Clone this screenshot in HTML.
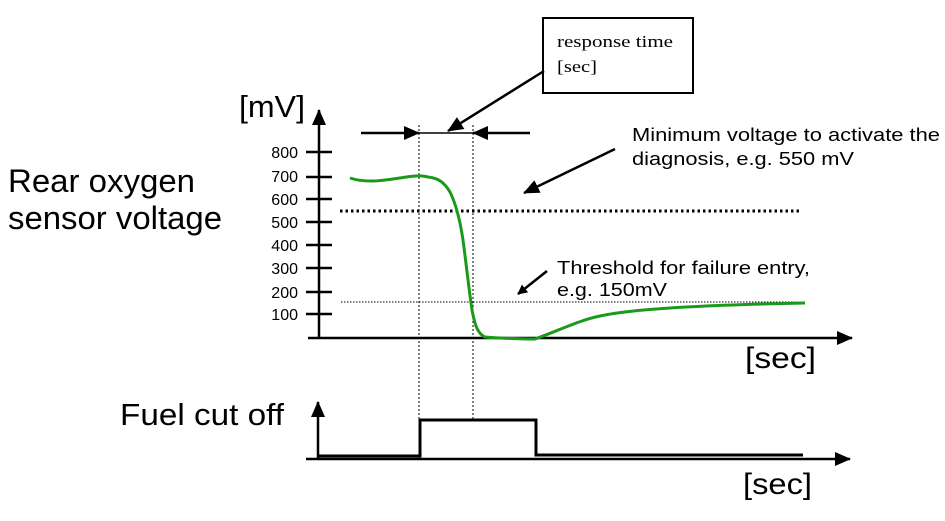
<!DOCTYPE html>
<html><head><meta charset="utf-8"><style>
html,body{margin:0;padding:0;background:#fff;}
svg{display:block;}
text{font-family:"Liberation Sans",sans-serif;fill:#000;}
</style></head><body>
<svg width="945" height="521" viewBox="0 0 945 521" xmlns="http://www.w3.org/2000/svg">
<defs>
<marker id="ah" markerWidth="10" markerHeight="10" refX="9" refY="5" orient="auto" markerUnits="userSpaceOnUse">
<path d="M0,0 L10,5 L0,10 z" fill="#000"/></marker>
<marker id="ab" markerWidth="16" markerHeight="14" refX="15" refY="7" orient="auto" markerUnits="userSpaceOnUse">
<path d="M0,0 L16,7 L0,14 z" fill="#000"/></marker>
</defs>
<text x="8" y="192" font-size="32" textLength="187" lengthAdjust="spacingAndGlyphs">Rear oxygen</text>
<text x="8" y="229" font-size="32" textLength="214" lengthAdjust="spacingAndGlyphs">sensor voltage</text>
<text x="120" y="425" font-size="31" textLength="164" lengthAdjust="spacingAndGlyphs">Fuel cut off</text>
<text x="239" y="117" font-size="31" textLength="66" lengthAdjust="spacingAndGlyphs">[mV]</text>
<text x="745" y="368" font-size="30" textLength="71" lengthAdjust="spacingAndGlyphs">[sec]</text>
<text x="743" y="494" font-size="30" textLength="69" lengthAdjust="spacingAndGlyphs">[sec]</text>
<g font-size="16" text-anchor="end">
<text x="298" y="158">800</text><text x="298" y="182">700</text><text x="298" y="205">600</text>
<text x="298" y="228">500</text><text x="298" y="251">400</text><text x="298" y="274">300</text>
<text x="298" y="298">200</text><text x="298" y="320">100</text>
</g>
<line x1="319" y1="339" x2="319" y2="110" stroke="#000" stroke-width="2.5" marker-end="url(#ab)"/>
<line x1="308" y1="338" x2="852" y2="338" stroke="#000" stroke-width="2.5" marker-end="url(#ab)"/>
<g stroke="#000" stroke-width="2.5">
<line x1="306" y1="152" x2="332" y2="152"/><line x1="306" y1="177" x2="332" y2="177"/>
<line x1="306" y1="199" x2="332" y2="199"/><line x1="306" y1="222" x2="332" y2="222"/>
<line x1="306" y1="245" x2="332" y2="245"/><line x1="306" y1="268" x2="332" y2="268"/>
<line x1="306" y1="292" x2="332" y2="292"/><line x1="306" y1="314" x2="332" y2="314"/>
</g>
<line x1="419" y1="125" x2="419" y2="458" stroke="#000" stroke-width="1" stroke-dasharray="2,2"/>
<line x1="473" y1="125" x2="473" y2="420" stroke="#000" stroke-width="1" stroke-dasharray="2,2"/>
<line x1="340" y1="211" x2="800" y2="211" stroke="#000" stroke-width="3" stroke-dasharray="2.5,3"/>
<line x1="341" y1="302" x2="800" y2="302" stroke="#000" stroke-width="1" stroke-dasharray="1.5,1.5"/>
<line x1="361" y1="133" x2="419" y2="133" stroke="#000" stroke-width="2.5" marker-end="url(#ab)"/>
<line x1="530" y1="133" x2="473" y2="133" stroke="#000" stroke-width="2.5" marker-end="url(#ab)"/>
<line x1="419" y1="133" x2="473" y2="133" stroke="#000" stroke-width="1.5"/>
<rect x="543" y="18" width="150" height="75" fill="#fff" stroke="#000" stroke-width="2"/>
<text x="557" y="47" font-size="17" textLength="116" lengthAdjust="spacingAndGlyphs" style="font-family:'Liberation Serif',serif">response time</text>
<text x="557" y="72" font-size="17" textLength="40" lengthAdjust="spacingAndGlyphs" style="font-family:'Liberation Serif',serif">[sec]</text>
<line x1="544" y1="71" x2="448" y2="131" stroke="#000" stroke-width="2.5" marker-end="url(#ab)"/>
<text x="632" y="141" font-size="18" textLength="308" lengthAdjust="spacingAndGlyphs">Minimum voltage to activate the</text>
<text x="632" y="165" font-size="18" textLength="222" lengthAdjust="spacingAndGlyphs">diagnosis, e.g. 550 mV</text>
<line x1="615" y1="149" x2="524" y2="193" stroke="#000" stroke-width="2.5" marker-end="url(#ab)"/>
<text x="557" y="274" font-size="18" textLength="253" lengthAdjust="spacingAndGlyphs">Threshold for failure entry,</text>
<text x="557" y="296" font-size="18" textLength="110" lengthAdjust="spacingAndGlyphs">e.g. 150mV</text>
<line x1="547" y1="271" x2="518" y2="294" stroke="#000" stroke-width="2.5" marker-end="url(#ah)"/>
<path d="M350,178 C365,183 380,181 400,178 C412,176 420,175 428,177 C438,178 444,182 450,192 C456,204 460,220 463,240 C466,262 469,290 472,310 C475,326 478,334 485,337 C495,338 520,339 535,339 C560,330 580,320 600,316 C630,309 700,305 805,303" fill="none" stroke="#1a9a1a" stroke-width="3"/>
<line x1="318" y1="459" x2="318" y2="402" stroke="#000" stroke-width="2.5" marker-end="url(#ab)"/>
<line x1="306" y1="459" x2="850" y2="459" stroke="#000" stroke-width="2.5" marker-end="url(#ab)"/>
<path d="M318,456 L420,456 L420,420 L536,420 L536,455 L803,455" fill="none" stroke="#000" stroke-width="3"/>
</svg>
</body></html>
